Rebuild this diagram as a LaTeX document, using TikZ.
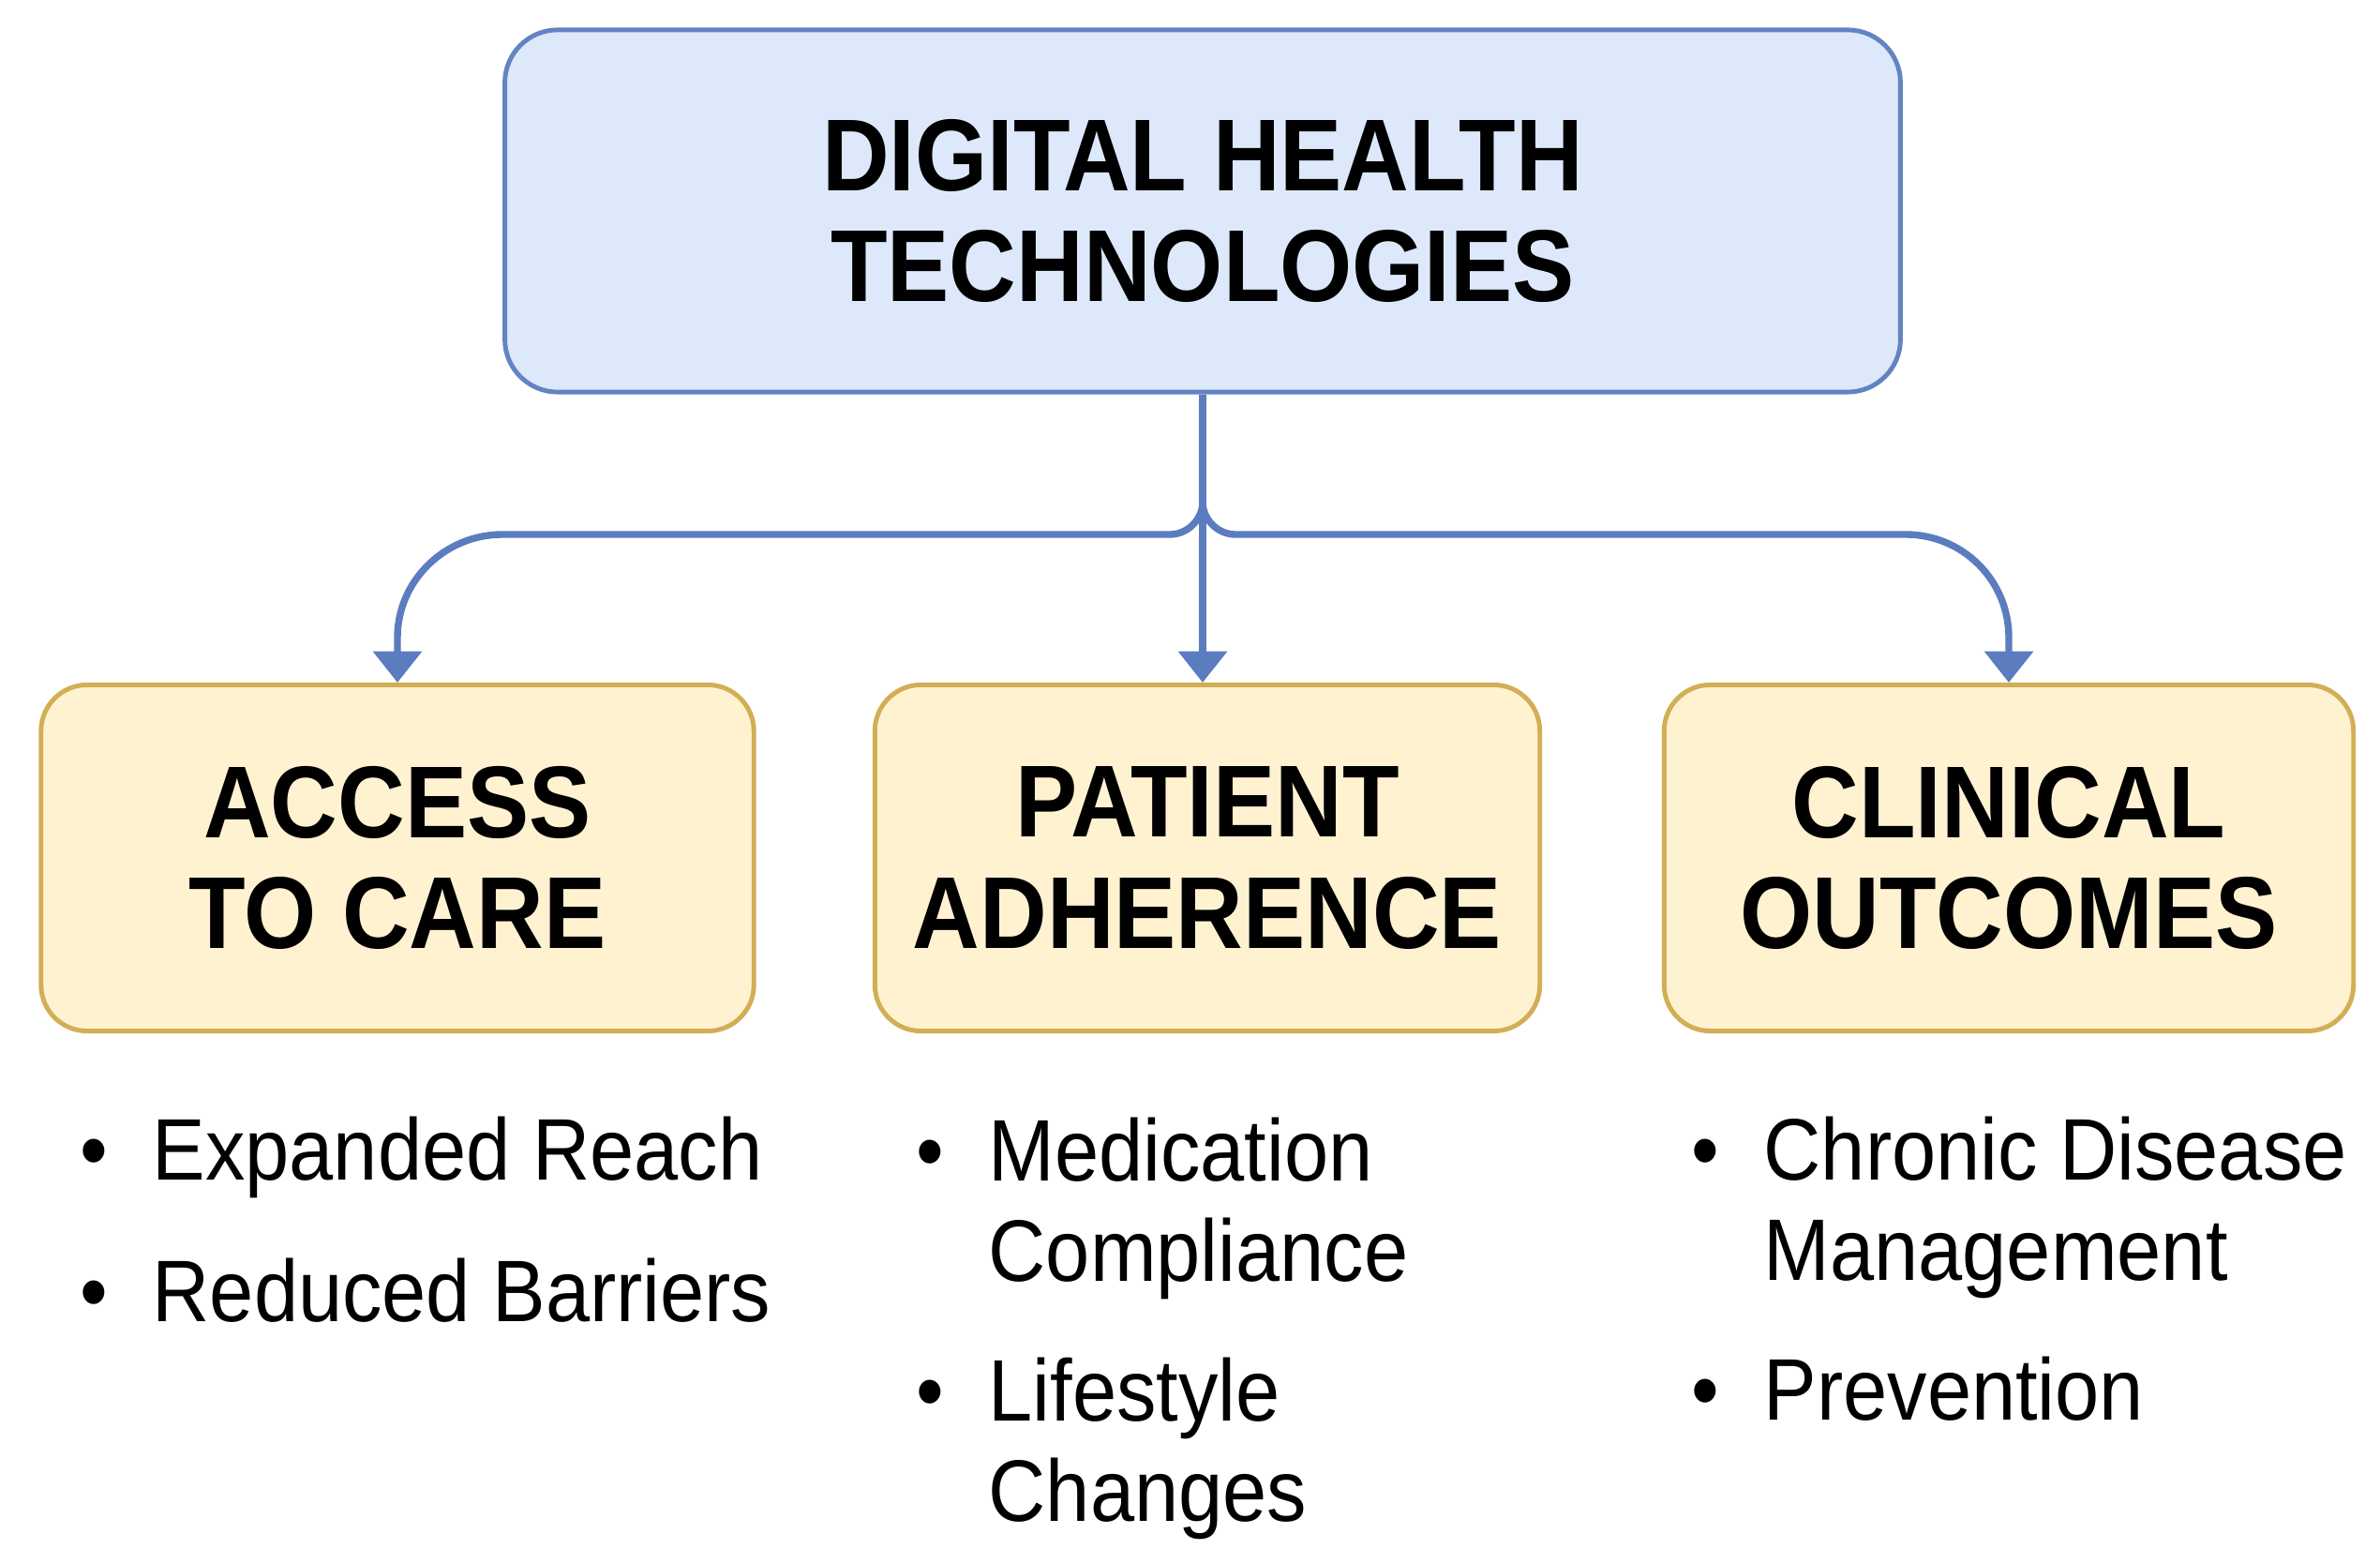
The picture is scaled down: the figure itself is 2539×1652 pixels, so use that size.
\documentclass[tikz,border=0pt]{standalone}
\usepackage{fontspec}
\setmainfont{Liberation Sans}[FakeStretch=0.91]
\usetikzlibrary{arrows.meta}
\definecolor{bluefill}{HTML}{DDE9FB}
\definecolor{blueline}{HTML}{6383C2}
\definecolor{yelfill}{HTML}{FFF2D1}
\definecolor{yelline}{HTML}{D2AE55}
\definecolor{arrowcol}{HTML}{5B7CBF}
\newcommand\mybullet{\llap{•\hspace{13.5pt}}}
\tikzset{
  topbox/.style={draw=blueline, fill=bluefill, line width=1.4pt, rounded corners=16pt,
    minimum width=14.88cm, minimum height=3.86cm, align=center, inner sep=0pt,
    font=\fontsize{31}{33.6}\selectfont\bfseries},
  catbox/.style={draw=yelline, fill=yelfill, line width=1.4pt, rounded corners=14pt,
    minimum height=3.69cm, align=center, inner sep=0pt,
    font=\fontsize{31}{33.6}\selectfont\bfseries},
  listtext/.style={inner sep=0pt, anchor=base west, font=\fontsize{26.5}{30.5}\selectfont},
  conn/.style={draw=arrowcol, line width=2.1pt, -{Triangle[width=14.5pt,length=9.5pt]}}
}
\begin{document}
\begin{tikzpicture}[x=0.01cm, y=-0.01cm]
\useasboundingbox (0,0) rectangle (2539,1652);
\fill[white] (0,0) rectangle (2539,1652);

\node[topbox] (top) at (1283,225) {DIGITAL HEALTH\\TECHNOLOGIES};

\node[catbox, minimum width=7.60cm] (acc) at (424,915) {ACCESS\\TO CARE};
\node[catbox, minimum width=7.09cm] (pat) at (1288,915) {PATIENT\\ADHERENCE};
\node[catbox, minimum width=7.35cm] (clin) at (2143,915) {CLINICAL\\OUTCOMES};

\coordinate (j) at (1283,535);
\coordinate (la) at (536,570);
\coordinate (ra) at (2033,570);

% middle
\draw[conn] (top.south) -- (top.south |- pat.north);
% left
\draw[conn] (j) .. controls (1283,554) and (1267,570) .. (1248,570) -- (la)
  .. controls (475,570) and (424,619) .. (424,680) -- (acc.north);
% right
\draw[conn] (j) .. controls (1283,554) and (1299,570) .. (1318,570) -- (ra)
  .. controls (2094,570) and (2143,619) .. (2143,680) -- (clin.north);

\node[listtext] (l1) at (162,1258) {\begin{tabular}[t]{@{}l@{}}\mybullet Expanded Reach\\[12.5pt]\mybullet Reduced Barriers\end{tabular}};
\node[listtext] (l2) at (1054,1259) {\begin{tabular}[t]{@{}l@{}}\mybullet Medication\\Compliance\\[12pt]\mybullet Lifestyle\\Changes\end{tabular}};
\node[listtext] (l3) at (1881,1258) {\begin{tabular}[t]{@{}l@{}}\mybullet Chronic Disease\\Management\\[12pt]\mybullet Prevention\end{tabular}};
\end{tikzpicture}
\end{document}
